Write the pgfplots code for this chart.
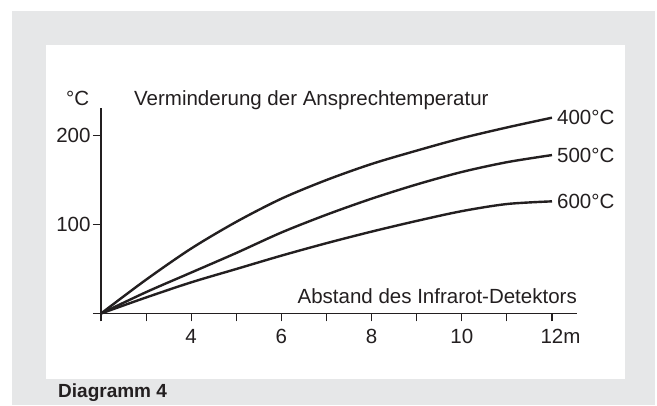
\documentclass[border=0pt]{standalone}
\usepackage{pgfplots}
\pgfplotsset{compat=1.18}
\usepackage{fontspec}
\setmainfont{Liberation Sans}
\definecolor{ink}{RGB}{35,31,32}
\definecolor{bggray}{RGB}{230,231,232}
\newcommand{\fs}{\fontsize{20.5}{20.5}\selectfont}
\begin{document}
\begin{tikzpicture}
\path[fill=white] (0pt,0pt) rectangle (657pt,405pt);
\path[fill=bggray] (12pt,0pt) rectangle (655pt,394pt);
\path[fill=white] (46pt,26pt) rectangle (625pt,360pt);
\begin{axis}[
  at={(101pt,91.5pt)}, anchor=south west, scale only axis,
  width=475.8pt, height=205.6pt,
  xmin=2, xmax=12.55, ymin=0, ymax=231,
  axis x line=bottom, axis y line=left,
  x axis line style={-}, y axis line style={-},
  axis line style={line width=1.1pt, color=ink},
  xtick={2,4,6,8,10,12}, xticklabels={,4,6,8,10,12\rlap{m}},
  minor xtick={3,5,7,9,11},
  ytick={0,100,200}, yticklabels={,100,200},
  tick align=outside, major tick length=8pt, minor tick length=8pt,
  every tick/.style={line width=1.1pt, color=ink},
  every minor tick/.style={line width=1.1pt, color=ink},
  ticklabel style={font=\fs, text=ink},
  xticklabel style={yshift=-4pt},
  yticklabel style={xshift=1pt},
  clip=false,
  /pgf/number format/assume math mode=true,
]
\addplot[ink, line width=2.4pt, smooth] table {
x y
2 0
3 38
4 73
5 103
6 129
7 150
8 168
9 183
10 197
11 209
12 220
};
\addplot[ink, line width=2.4pt, smooth] table {
x y
2 0
3 24
4 46
5 68
6 91
7 111
8 129
9 145
10 159
11 170
12 178
};
\addplot[ink, line width=2.4pt, smooth] table {
x y
2 0
3 18
4 35
5 50
6 65
7 79
8 92
9 104
10 115
11 123
12 126
};
\node[anchor=west, inner sep=0, font=\fs, text=ink, xshift=5pt] at (axis cs:12,220) {400°C};
\node[anchor=west, inner sep=0, font=\fs, text=ink, xshift=5pt] at (axis cs:12,178) {500°C};
\node[anchor=west, inner sep=0, font=\fs, text=ink, xshift=5pt] at (axis cs:12,126) {600°C};
\end{axis}
\node[anchor=base west, inner sep=0, font=\fs, text=ink] at (66pt,299pt) {°C};
\node[anchor=base west, inner sep=0, font=\fs, text=ink] at (134pt,299pt) {Verminderung der Ansprechtemperatur};
\node[anchor=base east, inner sep=0, font=\fs, text=ink] at (577pt,101.5pt) {Abstand des Infrarot-Detektors};
\node[anchor=base west, inner sep=0, font=\bfseries\fontsize{19}{19}\selectfont, text=ink] at (58pt,8pt) {Diagramm 4};
\end{tikzpicture}
\end{document}
